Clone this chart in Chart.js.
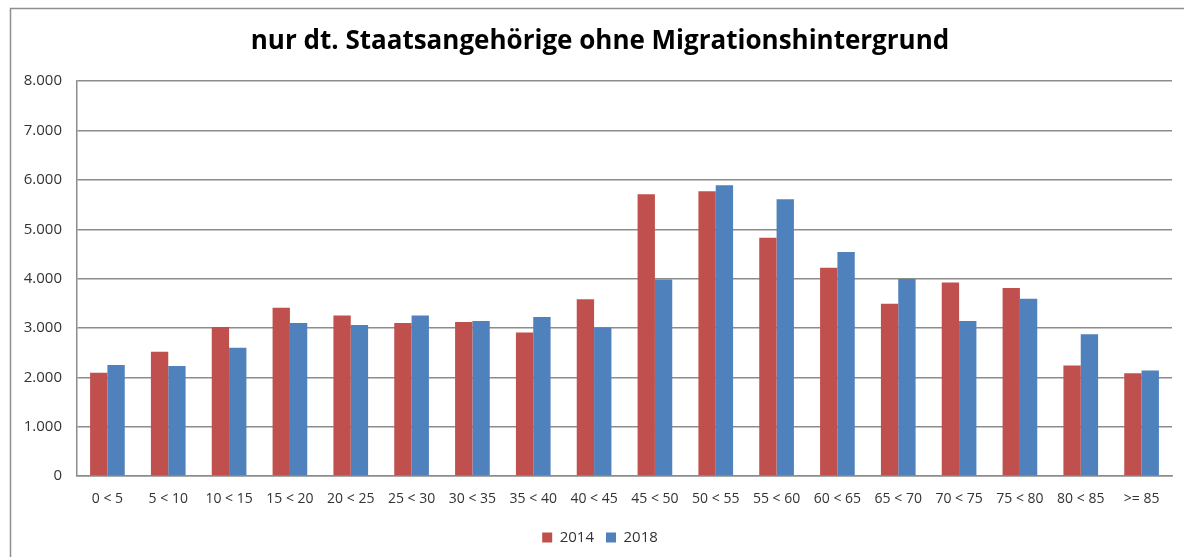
<!DOCTYPE html>
<html lang="de">
<head>
<meta charset="utf-8">
<title>nur dt. Staatsangehörige ohne Migrationshintergrund</title>
<script src="https://cdn.jsdelivr.net/npm/chart.js@4/dist/chart.umd.min.js"></script>
<style>
  html, body { margin: 0; padding: 0; background: #fff; }
  #wrap { width: 1184px; height: 557px; position: relative; }
</style>
</head>
<body>
<div id="wrap"><canvas id="chart" width="1184" height="557"></canvas></div>
<script>
"use strict";

/* ---------- data ---------- */
const ageGroups = [
  "0 < 5", "5 < 10", "10 < 15", "15 < 20", "20 < 25", "25 < 30",
  "30 < 35", "35 < 40", "40 < 45", "45 < 50", "50 < 55", "55 < 60",
  "60 < 65", "65 < 70", "70 < 75", "75 < 80", "80 < 85", ">= 85"
];
const values2014 = [
  2090, 2520, 3020, 3410, 3250, 3100,
  3120, 2910, 3580, 5710, 5770, 4830,
  4220, 3490, 3920, 3810, 2240, 2080
];
const values2018 = [
  2250, 2230, 2600, 3100, 3060, 3250,
  3140, 3220, 3010, 3980, 5890, 5610,
  4540, 3990, 3140, 3590, 2870, 2140
];
const yTicks = [0, 1000, 2000, 3000, 4000, 5000, 6000, 7000, 8000];

const RED = "#C0504D";
const BLUE = "#4F81BD";
const GRID = "#8c8c8c";
const TEXT = "#333333";
const FONT = "'Open Sans', 'Noto Sans', sans-serif";

// 8000 -> "8.000"
const fmtDe = (v) => String(v).replace(/\B(?=(\d{3})+(?!\d))/g, ".");

// outer frame of the Excel chart object
const framePlugin = {
  id: "frame",
  beforeDraw(chart) {
    const ctx = chart.ctx;
    ctx.save();
    ctx.fillStyle = "#fff";
    ctx.fillRect(0, 0, chart.width, chart.height);
    ctx.strokeStyle = "#8f8f8f";
    ctx.lineWidth = 1.5;
    ctx.beginPath();
    ctx.moveTo(10.5, chart.height);
    ctx.lineTo(10.5, 8.5);
    ctx.lineTo(chart.width, 8.5);
    ctx.stroke();
    ctx.restore();
  }
};

new Chart(document.getElementById("chart"), {
  type: "bar",
  data: {
    labels: ageGroups,
    datasets: [
      { label: "2014", data: values2014, backgroundColor: RED, borderWidth: 0 },
      { label: "2018", data: values2018, backgroundColor: BLUE, borderWidth: 0 },
    ],
  },
  options: {
    responsive: false,
    animation: false,
    devicePixelRatio: 1,
    categoryPercentage: 0.57,
    barPercentage: 1.0,
    layout: { padding: { left: 16, right: 0, top: 0, bottom: 2 } },
    plugins: {
      title: {
        display: true,
        text: "nur dt. Staatsangehörige ohne Migrationshintergrund",
        color: "#000",
        font: { family: FONT, size: 26, weight: "bold", lineHeight: 1.2 },
        padding: { top: 26, bottom: 24 },
      },
      legend: {
        display: true,
        position: "bottom",
        labels: {
          color: TEXT,
          boxWidth: 10,
          boxHeight: 10,
          padding: 12,
          font: { family: FONT, size: 15 },
        },
      },
      tooltip: { enabled: false },
    },
    scales: {
      x: {
        grid: { display: false, drawTicks: false },
        border: { display: true, color: GRID, width: 1.5 },
        ticks: {
          color: TEXT,
          padding: 15,
          maxRotation: 0,
          autoSkip: false,
          font: { family: FONT, size: 14 },
        },
        afterFit(scale) { scale.height = 42; },
      },
      y: {
        min: 0,
        max: 8000,
        afterBuildTicks(scale) { scale.ticks = yTicks.map(v => ({ value: v })); },
        grid: { color: GRID, lineWidth: 1.5, drawTicks: false },
        border: { display: true, color: GRID, width: 1.5 },
        ticks: {
          color: TEXT,
          padding: 15,
          callback: (v) => fmtDe(v),
          font: { family: FONT, size: 15 },
        },
        afterFit(scale) { scale.width = 61; },
      },
      // empty spacer on the right so the plot ends before the frame edge
      yRight: {
        position: "right",
        min: 0,
        max: 8000,
        grid: { display: false, drawTicks: false },
        border: { display: false },
        ticks: { display: false },
        afterFit(scale) { scale.width = 12; },
      },
    },
  },
  plugins: [framePlugin],
});
</script>
</body>
</html>
